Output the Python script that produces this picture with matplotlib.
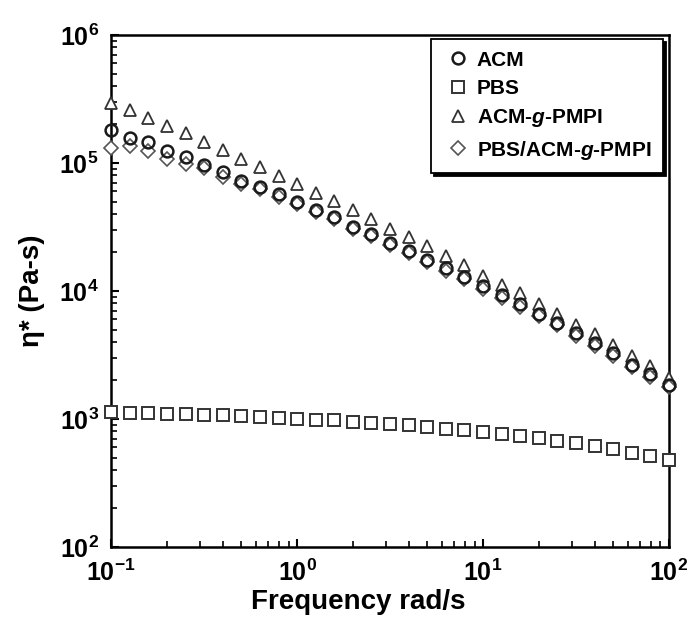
import numpy as np
import matplotlib
matplotlib.use('Agg')
import matplotlib.pyplot as plt

# frequency points, 10 per decade from 0.1 to 100 rad/s
freq = [0.1, 0.126, 0.158, 0.2, 0.251, 0.316, 0.398, 0.501, 0.631, 0.794,
        1.0, 1.26, 1.58, 2.0, 2.51, 3.16, 3.98, 5.01, 6.31, 7.94,
        10.0, 12.6, 15.8, 20.0, 25.1, 31.6, 39.8, 50.1, 63.1, 79.4, 100.0]

acm = [182000, 158000, 146000, 124000, 111000, 96200, 85100, 72600, 64400, 56900,
       49800, 43000, 38100, 31800, 28000, 23800, 20700, 17600, 15100, 12900,
       10900, 9270, 7850, 6650, 5660, 4660, 3910, 3270, 2640, 2240, 1850]

pbs = [1140, 1120, 1110, 1100, 1090, 1080, 1070, 1055, 1040, 1025,
       1005, 990, 975, 955, 935, 910, 890, 865, 840, 815,
       790, 765, 735, 705, 675, 645, 610, 580, 545, 510, 475]

acm_g = [293000, 260000, 225000, 196000, 171000, 146000, 126000, 107000, 93100, 78900,
         68400, 58500, 50500, 43000, 36400, 30700, 26400, 22300, 18900, 16100,
         13200, 11200, 9570, 7850, 6650, 5460, 4590, 3780, 3120, 2580, 2100]

blend = [132000, 135000, 124000, 108000, 97700, 90600, 77100, 68400, 62200, 54300,
         47600, 41100, 36400, 30400, 26700, 22700, 19800, 16800, 14400, 12300,
         10400, 8850, 7500, 6350, 5400, 4450, 3730, 3120, 2560, 2140, 1770]

plt.rcParams['font.family'] = ['Liberation Sans', 'DejaVu Sans']
plt.rcParams['font.weight'] = 'bold'
plt.rcParams['mathtext.fontset'] = 'custom'
plt.rcParams['mathtext.rm'] = 'Liberation Sans:bold'
plt.rcParams['mathtext.bf'] = 'Liberation Sans:bold'
plt.rcParams['mathtext.it'] = 'Liberation Sans:italic'

fig = plt.figure(figsize=(6.95, 6.35), dpi=100)
ax = fig.add_axes([0.16, 0.1386, 0.8026, 0.8063])

ax.plot(freq, pbs, 's', ms=8, mfc='white', mec='#333333', mew=1.4, clip_on=False,
        label='PBS', zorder=3)
ax.plot(freq, acm_g, '^', ms=8.5, mfc='white', mec='#333333', mew=1.3, clip_on=False,
        label='ACM-$\\mathit{g}$-PMPI', zorder=3)
ax.plot(freq, blend, 'D', ms=7, mfc='white', mec='#555555', mew=1.2, clip_on=False,
        label='PBS/ACM-$\\mathit{g}$-PMPI', zorder=4)
ax.plot(freq, acm, 'o', ms=8.5, mfc='none', mec='#1a1a1a', mew=1.8, clip_on=False,
        label='ACM', zorder=5)

ax.set_xscale('log')
ax.set_yscale('log')
ax.set_xlim(0.1, 100)
ax.set_ylim(1e2, 1e6)

for s in ax.spines.values():
    s.set_linewidth(1.8)
ax.tick_params(which='both', direction='in', top=False, right=False, labelsize=18)
ax.tick_params(which='major', length=6, width=1.5, pad=9)
ax.tick_params(which='minor', length=4, width=1.2)

ax.set_xlabel('Frequency rad/s', fontsize=20, fontweight='bold')
ax.xaxis.set_label_coords(0.443, -0.082)
ax.set_ylabel('\u03b7* (Pa-s)', fontsize=20, fontweight='bold', labelpad=10)

h, l = ax.get_legend_handles_labels()
order = [3, 0, 1, 2]
leg = ax.legend([h[i] for i in order], [l[i] for i in order],
                loc='upper right', bbox_to_anchor=(0.989, 0.992), borderaxespad=0,
                fancybox=False, shadow={'color': 'black', 'alpha': 1},
                edgecolor='black', framealpha=1, numpoints=1,
                handlelength=1.5, handletextpad=0.15, borderpad=0.55,
                labelspacing=0.45, prop={'size': 15, 'weight': 'bold'})
leg.get_frame().set_linewidth(1.3)

fig.savefig('out.png', dpi=100)
